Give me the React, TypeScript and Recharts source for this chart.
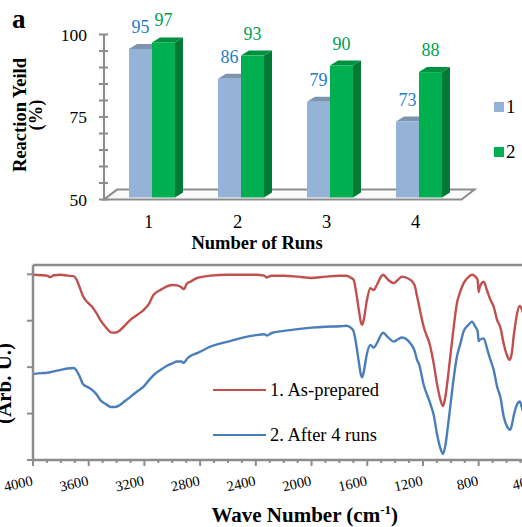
import React from 'react';
import {
  BarChart,
  Bar,
  XAxis,
  YAxis,
  Legend,
  LabelList,
  ReferenceArea,
  LineChart,
  Line,
  ReferenceLine,
  Label,
} from 'recharts';

// ---- panel a: reaction yield per run ----
const RUNS = ['1', '2', '3', '4'];
const YIELD_1 = [95, 86, 79, 73];
const YIELD_2 = [97, 93, 90, 88];
const YIELD_TICKS = [50, 55, 60, 65, 70, 75, 80, 85, 90, 95, 100];
const YIELD_LABELS = [50, 75, 100];

// ---- FTIR spectra ----
const WAVENUMBERS = [
  4000, 3940, 3900, 3876, 3850, 3800, 3750, 3710, 3690, 3665, 3640, 3600, 3576, 3540, 3517, 3480,
  3440, 3410, 3373, 3340, 3301, 3250, 3206, 3170, 3134, 3080, 3038, 3000, 2966, 2935, 2918, 2894,
  2870, 2822, 2727, 2600, 2500, 2400, 2340, 2320, 2290, 2200, 2100, 2000, 1900, 1800, 1750, 1715,
  1698, 1680, 1660, 1645, 1637, 1625, 1605, 1578, 1554, 1530, 1500, 1487, 1450, 1410, 1380, 1350,
  1290, 1260, 1242, 1230, 1195, 1148, 1123, 1100, 1075, 1056, 1040, 1020, 1004, 980, 956, 932,
  908, 870, 848, 824, 808, 800, 793, 764, 740, 716, 692, 668, 644, 620, 596, 580,
  574, 560, 549, 538, 524, 505, 485, 470,
];
const AS_PREPARED = [
  3.99, 3.98, 3.97, 3.94, 3.98, 3.99, 3.97, 3.96, 3.9, 3.72, 3.52, 3.37, 3.3, 3.14, 3.02, 2.87,
  2.75, 2.74, 2.8, 2.9, 3.02, 3.13, 3.23, 3.35, 3.56, 3.67, 3.74, 3.77, 3.76, 3.72, 3.68, 3.8,
  3.84, 3.92, 3.97, 3.99, 3.99, 3.99, 3.97, 3.93, 3.97, 3.97, 3.95, 3.92, 3.95, 3.97, 3.97, 3.92,
  3.88, 3.62, 3.22, 2.96, 2.91, 3.02, 3.4, 3.7, 3.66, 3.78, 3.95, 3.99, 3.88, 3.81, 3.88, 3.95,
  3.88, 3.76, 3.52, 3.35, 2.87, 2.45, 2.08, 1.65, 1.3, 1.16, 1.35, 1.8, 2.23, 2.85, 3.38, 3.63,
  3.81, 3.95, 3.99, 3.95, 3.88, 3.62, 3.72, 3.84, 3.65, 3.45, 3.3, 3.02, 2.85, 2.5, 2.25, 2.16,
  2.17, 2.35, 2.66, 2.9, 3.16, 3.32, 3.2, 3.05,
];
const AFTER_4_RUNS = [
  1.85, 1.87, 1.88, 1.89, 1.91, 1.94, 1.97, 1.98, 1.94, 1.8, 1.63, 1.56, 1.51, 1.4, 1.29, 1.21,
  1.14, 1.14, 1.19, 1.27, 1.36, 1.48, 1.58, 1.71, 1.83, 1.95, 2.03, 2.08, 2.12, 2.12, 2.09, 2.18,
  2.24, 2.3, 2.44, 2.55, 2.63, 2.69, 2.71, 2.68, 2.73, 2.78, 2.82, 2.85, 2.87, 2.88, 2.89, 2.84,
  2.77, 2.5, 2.1, 1.83, 1.78, 1.9, 2.25, 2.48, 2.42, 2.52, 2.7, 2.74, 2.64, 2.55, 2.6, 2.64,
  2.51, 2.35, 2.15, 2.08, 1.62, 1.22, 0.97, 0.57, 0.25, 0.13, 0.3, 0.75, 1.15, 1.75, 2.23, 2.5,
  2.77, 2.92, 2.98, 2.87, 2.78, 2.56, 2.59, 2.62, 2.4, 2.16, 1.94, 1.58, 1.35, 0.93, 0.72, 0.66,
  0.65, 0.78, 0.95, 1.08, 1.2, 1.26, 1.08, 0.98,
];
const WAVE_MAJOR = [4000, 3600, 3200, 2800, 2400, 2000, 1600, 1200, 800, 400];
const WAVE_TICKS = Array.from({ length: 37 }, (_, i) => 4000 - i * 100);
const ARB_TICKS = [0, 1, 2, 3, 4];

const FONT = '"Liberation Serif", "Times New Roman", serif';
const GREY = '#8c8c8c';
const BLUE_BAR = '#95b3d7';
const GREEN_BAR = '#00b050';

const yieldRows = RUNS.map((run, i) => ({ run, s1: YIELD_1[i], s2: YIELD_2[i] }));
const spectrumRows = WAVENUMBERS.map((wn, i) => ({ wn, a: AS_PREPARED[i], b: AFTER_4_RUNS[i] }));

// excel-ish 3D column: front face, top and right side
const DX = 3;
const DY = 2;
const DEPTH_X = 8;
const DEPTH_Y = 5;

const column3D = (front: string, top: string, side: string) => (props: any) => {
  const { x, y, width, height } = props;
  if (width == null || height == null) return <g />;
  const fx = x + DX;
  const fy = y - DY;
  const r = fx + width;
  return (
    <g>
      <polygon
        points={`${r},${fy} ${r + DEPTH_X},${fy - DEPTH_Y} ${r + DEPTH_X},${fy + height - DEPTH_Y} ${r},${fy + height}`}
        fill={side}
      />
      <polygon
        points={`${fx},${fy} ${fx + DEPTH_X},${fy - DEPTH_Y} ${r + DEPTH_X},${fy - DEPTH_Y} ${r},${fy}`}
        fill={top}
      />
      <rect x={fx} y={fy} width={width} height={height} fill={front} />
    </g>
  );
};

const valueLabel = (color: string) => (p: any) => (
  <text
    x={p.x + p.width / 2 + DX}
    y={p.y - DY - 16}
    textAnchor="middle"
    fill={color}
    fontSize={18}
    fontFamily={FONT}
  >
    {p.value}
  </text>
);

const Floor = (p: any) => {
  const { x, y, width, height } = p;
  const d = 13;
  const pts = `${x},${y + height} ${x + width + 1.5},${y + height} ${x + width + 1.5 + d},${y} ${x + d},${y}`;
  return <polygon points={pts} fill="#fafafa" stroke={GREY} strokeWidth={2} />;
};

const YieldTick = (p: any) => {
  const { x, y, payload } = p;
  return (
    <g>
      <line x1={x - 5} x2={x + 4} y1={y} y2={y} stroke={GREY} strokeWidth={2} />
      {YIELD_LABELS.includes(payload.value) && (
        <text x={x - 17} y={y + 6} textAnchor="end" fontSize={17.5} fill="#000" fontFamily={FONT}>
          {payload.value}
        </text>
      )}
    </g>
  );
};

const RunTick = (p: any) => (
  <text x={p.x} y={p.y + 28.5} textAnchor="middle" fontSize={18.5} fill="#000" fontFamily={FONT}>
    {p.payload.value}
  </text>
);

const YieldTitle = (p: any) => {
  const vb = p.viewBox;
  const cy = vb.y + vb.height / 2 - 2;
  return (
    <g fontWeight="bold" fontSize={18.5} fill="#000" fontFamily={FONT}>
      <text x={26} y={cy} textAnchor="middle" transform={`rotate(-90 26 ${cy})`}>
        Reaction Yeild
      </text>
      <text x={42} y={cy} textAnchor="middle" transform={`rotate(-90 42 ${cy})`}>
        (%)
      </text>
    </g>
  );
};

const RunsTitle = (p: any) => {
  const vb = p.viewBox;
  return (
    <text
      x={vb.x + vb.width / 2 - 25}
      y={vb.y + 49.5}
      textAnchor="middle"
      fontWeight="bold"
      fontSize={18.5}
      fill="#000"
      fontFamily={FONT}
    >
      Number of Runs
    </text>
  );
};

const BarLegend = ({ payload }: any) => (
  <div style={{ fontFamily: FONT }}>
    {(payload || []).map((e: any) => (
      <div key={e.value} style={{ height: 45, display: 'flex', alignItems: 'center' }}>
        <span style={{ width: 10, height: 10, background: e.color, marginRight: 2, display: 'inline-block' }} />
        <span style={{ fontSize: 19, lineHeight: '19px' }}>{e.value}</span>
      </div>
    ))}
  </div>
);

const WaveTick = (p: any) => {
  const { x, y, payload } = p;
  const major = WAVE_MAJOR.includes(payload.value);
  const tx = x + 0.5;
  const ty = y + 25;
  return (
    <g>
      <line x1={x} x2={x} y1={y} y2={y + (major ? 6 : 3)} stroke={GREY} strokeWidth={2} />
      {major && (
        <text
          x={tx}
          y={ty}
          textAnchor="end"
          fontSize={14.5}
          fill="#000"
          fontFamily={FONT}
          transform={`rotate(-13 ${tx} ${ty})`}
        >
          {payload.value}
        </text>
      )}
    </g>
  );
};

const ArbTick = (p: any) => <line x1={p.x - 6} x2={p.x} y1={p.y} y2={p.y} stroke={GREY} strokeWidth={2} />;

const WaveTitle = (p: any) => {
  const vb = p.viewBox;
  return (
    <text
      x={vb.x + vb.width / 2 + 21}
      y={vb.y + 62}
      textAnchor="middle"
      fontWeight="bold"
      fontSize={21}
      fill="#000"
      fontFamily={FONT}
    >
      Wave Number (cm
      <tspan dy={-8} fontSize={13}>
        -1
      </tspan>
      <tspan dy={8}>)</tspan>
    </text>
  );
};

const ArbTitle = (p: any) => {
  const vb = p.viewBox;
  const cy = vb.y + vb.height / 2 + 21;
  return (
    <text
      x={11}
      y={cy}
      textAnchor="middle"
      fontWeight="bold"
      fontSize={21}
      fill="#000"
      fontFamily={FONT}
      transform={`rotate(-90 11 ${cy})`}
    >
      (Arb. U.)
    </text>
  );
};

const LineLegend = ({ payload }: any) => (
  <div style={{ fontFamily: FONT }}>
    {(payload || []).map((e: any) => (
      <div key={e.value} style={{ height: 45, display: 'flex', alignItems: 'center' }}>
        <span style={{ width: 53, height: 0, borderTop: `2.5px solid ${e.color}`, marginRight: 4, display: 'inline-block' }} />
        <span style={{ fontSize: 18.5, lineHeight: '19px' }}>{e.value}</span>
      </div>
    ))}
  </div>
);

export default function App() {
  return (
    <div
      style={{
        position: 'absolute',
        left: 0,
        top: 0,
        width: 522,
        height: 527,
        overflow: 'hidden',
        background: '#fff',
        color: '#000',
        fontFamily: FONT,
      }}
    >
      <div style={{ position: 'absolute', left: 0, top: 0 }}>
        <BarChart
          width={522}
          height={255}
          data={yieldRows}
          margin={{ top: 34.5, right: 62, bottom: 25.5, left: 0 }}
          barSize={23}
          barGap={0}
        >
          <ReferenceArea y1={50} y2={53} shape={Floor} ifOverflow="visible" />
          <XAxis dataKey="run" axisLine={false} tickLine={false} tickSize={0} tickMargin={0} height={30} tick={RunTick}>
            <Label content={RunsTitle} />
          </XAxis>
          <YAxis
            type="number"
            domain={[50, 100]}
            ticks={YIELD_TICKS}
            interval={0}
            width={104}
            tick={YieldTick}
            tickLine={false}
            tickSize={0}
            tickMargin={0}
            axisLine={{ stroke: GREY, strokeWidth: 2 }}
          >
            <Label content={YieldTitle} />
          </YAxis>
          <Legend
            layout="vertical"
            align="center"
            verticalAlign="middle"
            content={BarLegend}
            wrapperStyle={{ left: 494, top: 84, width: 28 }}
          />
          <Bar dataKey="s1" name="1" fill={BLUE_BAR} shape={column3D(BLUE_BAR, '#7d93b0', '#6f86a3')} isAnimationActive={false}>
            <LabelList dataKey="s1" content={valueLabel('#1f7ccb')} />
          </Bar>
          <Bar dataKey="s2" name="2" fill={GREEN_BAR} shape={column3D(GREEN_BAR, '#00913f', '#007a35')} isAnimationActive={false}>
            <LabelList dataKey="s2" content={valueLabel('#00a050')} />
          </Bar>
        </BarChart>
      </div>
      <svg style={{ position: 'absolute', left: 0, top: 0 }} width={40} height={40}>
        <text x={12} y={27.7} fontSize={27} fontWeight="bold" fill="#000" fontFamily={FONT}>
          a
        </text>
      </svg>
      <div style={{ position: 'absolute', left: 0, top: 255 }}>
        <LineChart width={560} height={272} data={spectrumRows} margin={{ top: 10, right: 25.6, bottom: 0, left: 0 }}>
          <XAxis
            dataKey="wn"
            type="number"
            domain={[400, 4000]}
            reversed
            ticks={WAVE_TICKS}
            interval={0}
            tick={WaveTick}
            tickLine={false}
            tickSize={0}
            tickMargin={0}
            height={67}
            allowDataOverflow
            axisLine={{ stroke: GREY, strokeWidth: 2.5 }}
          >
            <Label content={WaveTitle} />
          </XAxis>
          <YAxis
            type="number"
            domain={[0, 4.2]}
            ticks={ARB_TICKS}
            interval={0}
            width={33}
            tick={ArbTick}
            tickLine={false}
            tickSize={0}
            tickMargin={0}
            allowDataOverflow
            axisLine={{ stroke: GREY, strokeWidth: 2.5 }}
          >
            <Label content={ArbTitle} />
          </YAxis>
          <ReferenceLine y={4.2} stroke={GREY} strokeWidth={2.5} />
          <Legend
            layout="vertical"
            align="center"
            verticalAlign="middle"
            content={LineLegend}
            wrapperStyle={{ left: 213, top: 112.5, width: 200 }}
          />
          <Line type="monotone" dataKey="a" name="1. As-prepared" stroke="#c0504d" strokeWidth={2.4} dot={false} isAnimationActive={false} />
          <Line type="monotone" dataKey="b" name="2. After 4 runs" stroke="#4a7ebb" strokeWidth={2.4} dot={false} isAnimationActive={false} />
        </LineChart>
      </div>
    </div>
  );
}
